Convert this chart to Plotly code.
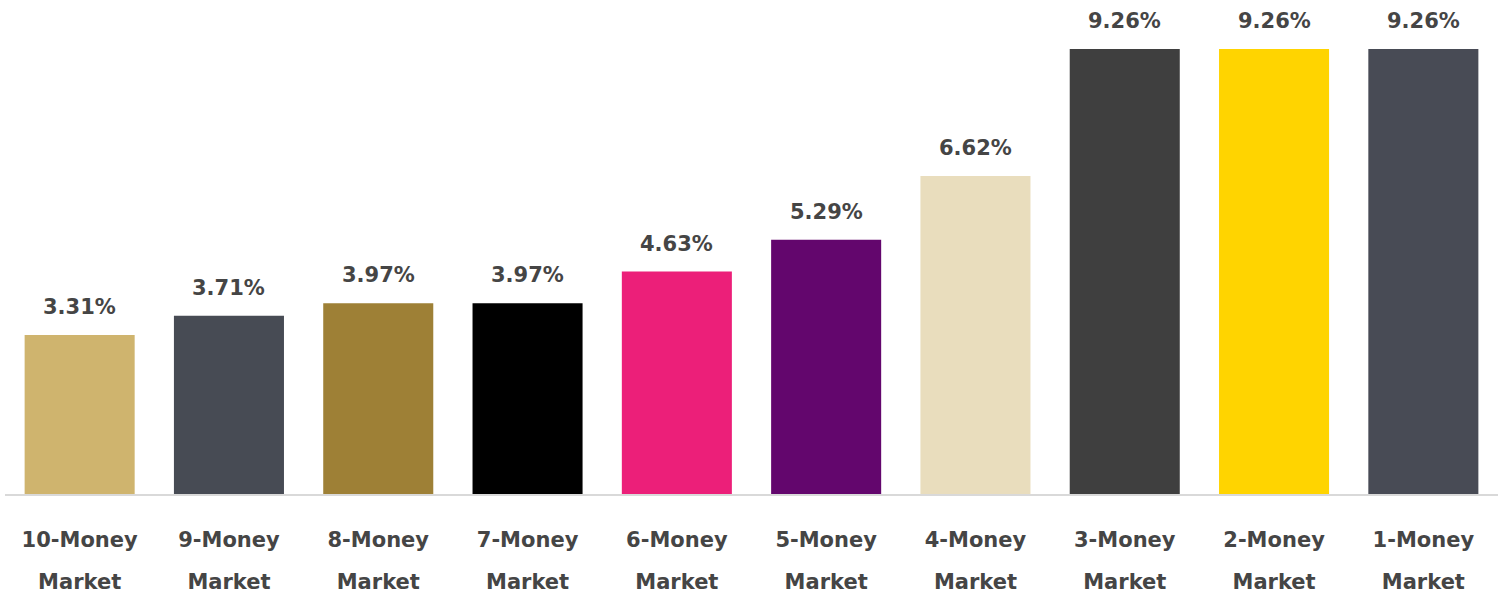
import plotly.graph_objects as go

categories = ["10-Money Market", "9-Money Market", "8-Money Market", "7-Money Market",
              "6-Money Market", "5-Money Market", "4-Money Market", "3-Money Market",
              "2-Money Market", "1-Money Market"]
label_line1 = ["10-Money", "9-Money", "8-Money", "7-Money", "6-Money",
               "5-Money", "4-Money", "3-Money", "2-Money", "1-Money"]
label_line2 = ["Market"] * 10
values = [3.31, 3.71, 3.97, 3.97, 4.63, 5.29, 6.62, 9.26, 9.26, 9.26]
value_labels = ["3.31%", "3.71%", "3.97%", "3.97%", "4.63%", "5.29%", "6.62%",
                "9.26%", "9.26%", "9.26%"]
colors = ["#CFB46E", "#474B54", "#9E8036", "#000000", "#EC1F79",
          "#63066D", "#E9DDBD", "#3F3F3F", "#FFD400", "#484B55"]

FONT = "DejaVu Sans"
TXT = "#454545"
FS = 21

fig = go.Figure()
fig.add_trace(go.Bar(x=categories, y=values, marker=dict(color=colors, line=dict(width=0)),
                     hoverinfo="x+y", showlegend=False))
fig.add_trace(go.Scatter(x=categories, y=values, xaxis="x2", mode="markers",
                         marker=dict(opacity=0), hoverinfo="skip", showlegend=False))

for c, v, t in zip(categories, values, value_labels):
    fig.add_annotation(x=c, y=v, text=t, showarrow=False, yanchor="bottom",
                       yshift=14, font=dict(family=FONT, size=FS, color=TXT, weight="bold"))

fig.update_layout(
    width=1501, height=599,
    margin=dict(l=5, r=3, t=0, b=105),
    paper_bgcolor="white", plot_bgcolor="white",
    bargap=0.263,
    xaxis=dict(tickvals=categories, ticktext=label_line1, showline=True,
               linecolor="#D9D9D9", linewidth=2, ticks="", showgrid=False,
               automargin=False, range=[-0.5, len(categories) - 0.5],
               tickfont=dict(family=FONT, size=FS, color=TXT, weight="bold"),
               ticklabelstandoff=26),
    xaxis2=dict(overlaying="x", matches="x", side="bottom", tickvals=categories,
                ticktext=label_line2, showline=False, ticks="", showgrid=False,
                automargin=False,
                tickfont=dict(family=FONT, size=FS, color=TXT, weight="bold"),
                ticklabelstandoff=73),
    yaxis=dict(range=[0, 10.28], visible=False, showgrid=False),
)

fig.write_html("out.html", config={"displayModeBar": False},
               post_script="document.body.style.margin='0px';")
